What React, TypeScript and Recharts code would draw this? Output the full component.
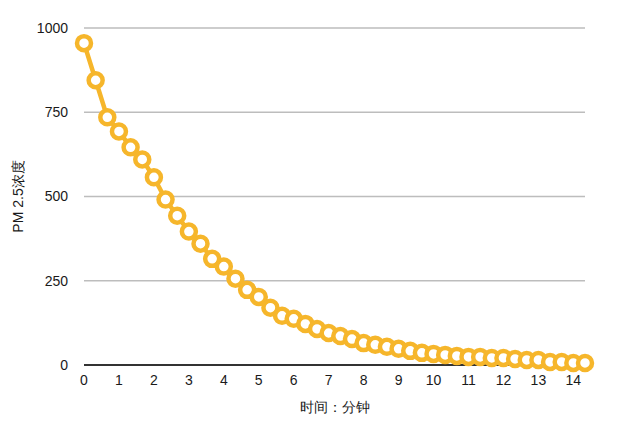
import React from 'react';
import { LineChart, Line, XAxis, YAxis, CartesianGrid, Label } from 'recharts';

const minutes: number[] = [
  0, 1 / 3, 2 / 3, 1, 4 / 3, 5 / 3, 2, 7 / 3, 8 / 3, 3, 10 / 3, 11 / 3, 4, 13 / 3, 14 / 3,
  5, 16 / 3, 17 / 3, 6, 19 / 3, 20 / 3, 7, 22 / 3, 23 / 3, 8, 25 / 3, 26 / 3, 9, 28 / 3,
  29 / 3, 10, 31 / 3, 32 / 3, 11, 34 / 3, 35 / 3, 12, 37 / 3, 38 / 3, 13, 40 / 3, 41 / 3,
  14, 43 / 3,
];
const pm25: number[] = [
  955, 845, 735, 693, 646, 610, 557, 491, 443, 396, 360, 315, 292, 256, 223,
  202, 170, 146, 137, 122, 107, 95, 86, 77, 65, 60, 54, 48, 42,
  36, 33, 30, 27, 24, 24, 21, 21, 18, 15, 15, 9, 9,
  6, 6,
];
const xTicks: number[] = [0, 1, 2, 3, 4, 5, 6, 7, 8, 9, 10, 11, 12, 13, 14];
const yTicks: number[] = [0, 250, 500, 750, 1000];
const xTitle = '时间：分钟';
const yTitle = 'PM 2.5浓度';

const data = minutes.map((t, i) => ({ t, v: pm25[i] }));

const FONT = 'Liberation Sans, Arial, Helvetica, sans-serif';
const COLOR = '#F6B62B';

const Dot = (props: any) => {
  const { cx, cy } = props;
  if (cx == null || cy == null) return null;
  return <circle cx={cx} cy={cy} r={7} fill="#fff" stroke={COLOR} strokeWidth={4.5} />;
};

export default function App() {
  return (
    <div style={{ position: 'absolute', left: 0, top: 0, width: 630, height: 424, background: '#fff' }}>
      <LineChart
        width={630}
        height={424}
        data={data}
        margin={{ top: 28, right: 45, left: 0, bottom: 0 }}
      >
        <CartesianGrid vertical={false} stroke="#bdbdbd" strokeWidth={1.5} />
        <XAxis
          dataKey="t"
          type="number"
          domain={[0, 'dataMax']}
          ticks={xTicks}
          interval={0}
          height={59}
          tickLine={false}
          tickSize={0}
          tickMargin={10}
          axisLine={{ stroke: '#333', strokeWidth: 2 }}
          tick={{ fill: '#1a1a1a', fontSize: 14, fontFamily: FONT }}
        >
          <Label
            content={(p: any) => {
              const vb = p.viewBox;
              return (
                <text
                  x={vb.x + vb.width / 2}
                  y={vb.y + 47}
                  textAnchor="middle"
                  fontSize={14}
                  fontFamily={FONT}
                  fill="#1a1a1a"
                >
                  {xTitle}
                </text>
              );
            }}
          />
        </XAxis>
        <YAxis
          dataKey="v"
          type="number"
          domain={[0, 1000]}
          ticks={yTicks}
          interval={0}
          width={84}
          axisLine={false}
          tickLine={false}
          tickSize={0}
          tickMargin={16}
          tick={{ fill: '#1a1a1a', fontSize: 14, fontFamily: FONT }}
        >
          <Label
            content={(p: any) => {
              const vb = p.viewBox;
              const cx = vb.x + 23;
              const cy = vb.y + vb.height / 2;
              return (
                <text
                  x={cx}
                  y={cy}
                  transform={`rotate(-90 ${cx} ${cy})`}
                  textAnchor="middle"
                  fontSize={14}
                  fontFamily={FONT}
                  fill="#1a1a1a"
                >
                  {yTitle}
                </text>
              );
            }}
          />
        </YAxis>
        <Line
          type="linear"
          dataKey="v"
          stroke={COLOR}
          strokeWidth={4.5}
          dot={<Dot />}
          activeDot={false}
          isAnimationActive={false}
        />
      </LineChart>
    </div>
  );
}
